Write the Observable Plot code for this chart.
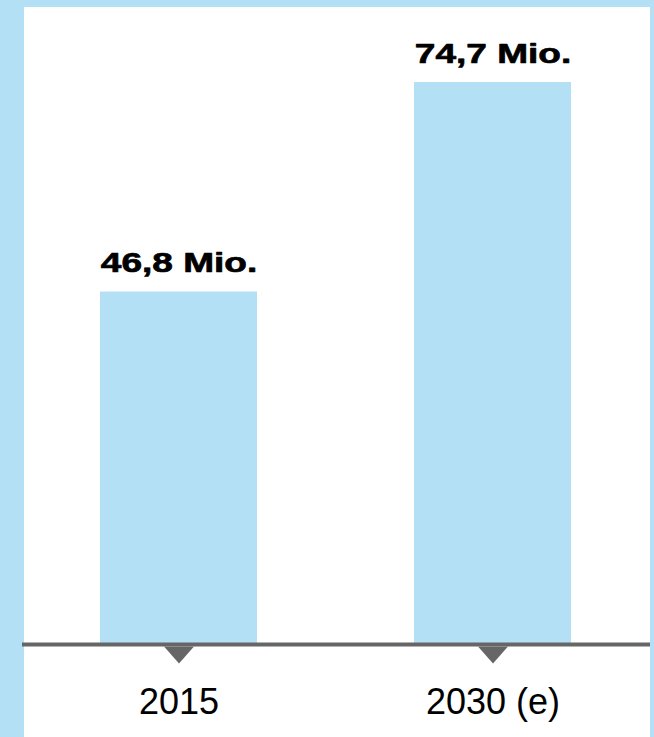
<!DOCTYPE html>
<html>
<head>
<meta charset="utf-8">
<script src="https://cdn.jsdelivr.net/npm/d3@7"></script>
<script src="https://cdn.jsdelivr.net/npm/@observablehq/plot@0.6"></script>
<style>
  html, body { margin: 0; padding: 0; background: #fff; }
  #frame {
    width: 654px; height: 737px; box-sizing: border-box;
    background: #b3e0f5;
    padding: 7px 4px 0 24px;
    overflow: hidden;
  }
  #chart { width: 626px; height: 730px; background: #fff; }
  #chart svg { overflow: visible; display: block; }
</style>
</head>
<body>
<div id="frame"><div id="chart"></div></div>
<script>
const categories = ["2015", "2030 (e)"];
const values = [46.8, 74.7];
const valueLabels = ["46,8 Mio.", "74,7 Mio."];

const data = categories.map((c, i) => ({category: c, value: values[i], label: valueLabels[i]}));

const barColor = "#b3e0f5";
const axisColor = "#666666";

const downTriangle = {
  draw(context) {
    context.moveTo(-15, 0);
    context.lineTo(15, 0);
    context.lineTo(0, 17);
    context.closePath();
  }
};

const chart = Plot.plot({
  width: 626,
  height: 730,
  marginLeft: 76,
  marginRight: 79,
  marginTop: 75,
  marginBottom: 94,
  style: {fontFamily: "'Liberation Sans', Arial, Helvetica, sans-serif", fontSize: "36px", color: "#000", background: "transparent"},
  x: {domain: categories, padding: 0.5, paddingOuter: 0, label: null},
  y: {domain: [0, 74.7], axis: null},
  marks: [
    Plot.barY(data, {x: "category", y: "value", fill: barColor}),
    Plot.ruleY([0], {stroke: axisColor, strokeWidth: 4, dy: 1, insetLeft: -78, insetRight: -79}),
    Plot.dot(data, {x: "category", y: () => 0, symbol: downTriangle, fill: axisColor, stroke: null, dy: 3, r: 10}),
    Plot.text(data, {x: "category", y: "value", text: "label", dy: -20, lineAnchor: "bottom",
      fontWeight: "bold", fontSize: 28.5, fill: "#000", stroke: "#000", strokeWidth: 0.7, className: "vlabel"}),
    Plot.axisX({tickSize: 0, tickPadding: 45, fontSize: 36, fill: "#000", label: null})
  ]
});

document.getElementById("chart").appendChild(chart);

d3.select(chart).selectAll(".vlabel text").attr("transform", function() {
  const t = this.getAttribute("transform") || "";
  return t + " scale(1.3,1)";
});
</script>
</body>
</html>
